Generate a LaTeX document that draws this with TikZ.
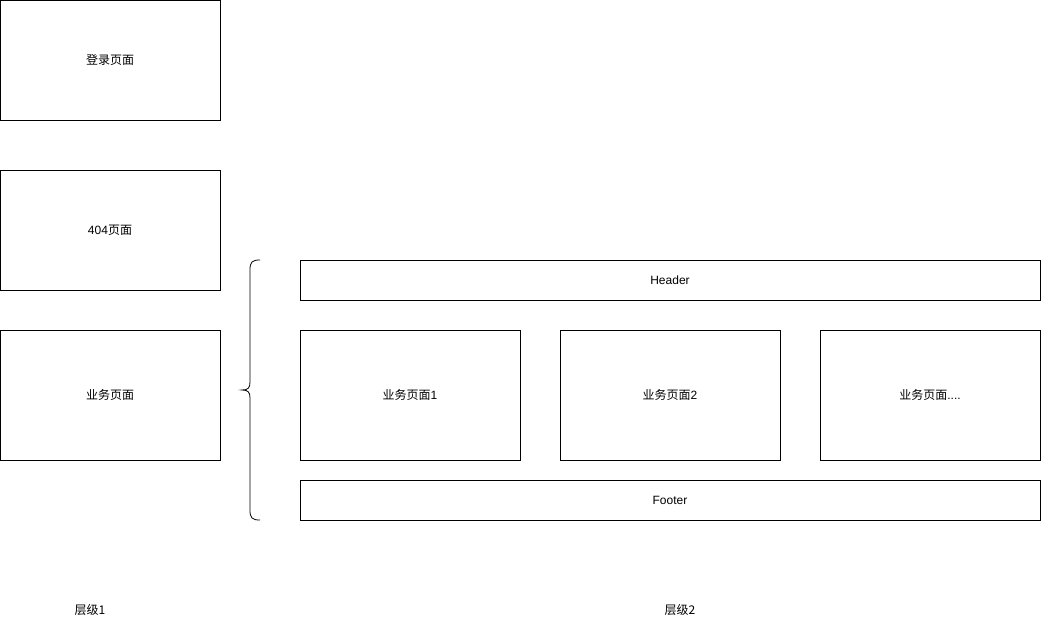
\documentclass[tikz,border=0pt]{standalone}
\usepackage{fontspec}
\setmainfont{Liberation Sans}
\newfontfamily\cjk{Noto Sans CJK SC}
\begin{document}
\begin{tikzpicture}[x=1pt,y=-1pt,
  box/.style={draw=black,line width=0.8pt,fill=white,inner sep=0pt,font=\fontsize{12}{14}\selectfont},
  lbl/.style={inner sep=0pt,font=\fontsize{12}{14}\selectfont}]
\useasboundingbox[fill=white] (0,0) rectangle (1041,621);
\node[box,minimum width=220pt,minimum height=120pt] (login) at (110,60) {\cjk 登录页面};
\node[box,minimum width=220pt,minimum height=120pt] (nf) at (110,230) {404{\cjk 页面}};
\node[box,minimum width=220pt,minimum height=130pt] (biz) at (110,395) {\cjk 业务页面};
\node[box,minimum width=740pt,minimum height=40pt] (header) at (670,280) {Header};
\node[box,minimum width=220pt,minimum height=130pt] (b1) at (410,395) {{\cjk 业务页面}1};
\node[box,minimum width=220pt,minimum height=130pt] (b2) at (670,395) {{\cjk 业务页面}2};
\node[box,minimum width=220pt,minimum height=130pt] (b3) at (930,395) {{\cjk 业务页面}....};
\node[box,minimum width=740pt,minimum height=40pt] (footer) at (670,500) {Footer};
\node[lbl] (l1) at (90,610) {\cjk 层级1};
\node[lbl] (l2) at (680,610) {\cjk 层级2};
\draw[line width=0.8pt] (260,260) .. controls (252,260) and (250,262) .. (250,270)
  -- (250,382) .. controls (250,388) and (248,390) .. (242,390)
  .. controls (248,390) and (250,392) .. (250,398)
  -- (250,510) .. controls (250,518) and (252,520) .. (260,520);
\end{tikzpicture}
\end{document}
